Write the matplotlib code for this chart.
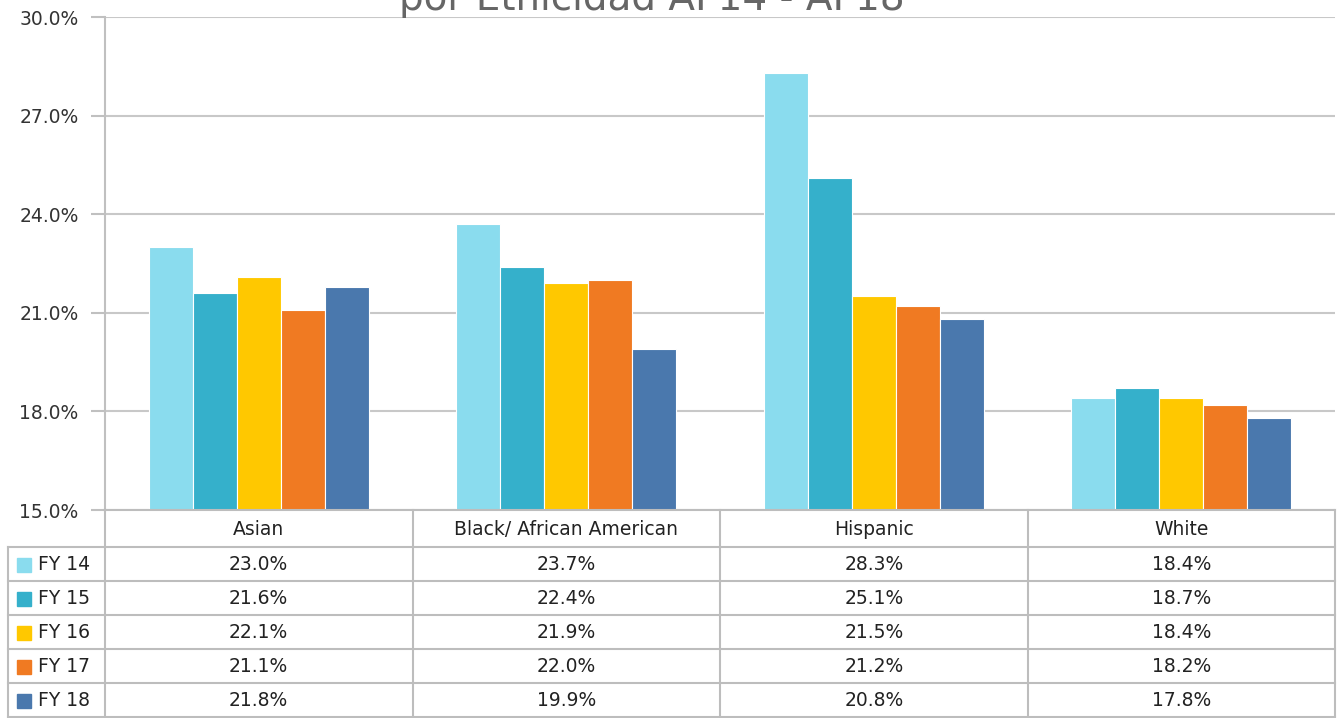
import numpy as np
import matplotlib.pyplot as plt
from matplotlib.ticker import FuncFormatter

# datos por grupo étnico, AF14 - AF18
grupos = ['Asian', 'Black/ African American', 'Hispanic', 'White']
series = ['FY 14', 'FY 15', 'FY 16', 'FY 17', 'FY 18']
fy14 = [23.0, 23.7, 28.3, 18.4]
fy15 = [21.6, 22.4, 25.1, 18.7]
fy16 = [22.1, 21.9, 21.5, 18.4]
fy17 = [21.1, 22.0, 21.2, 18.2]
fy18 = [21.8, 19.9, 20.8, 17.8]
valores = [fy14, fy15, fy16, fy17, fy18]
colores = ['#8adcee', '#35b0cb', '#ffc800', '#f07a22', '#4a78ad']
yticks = [15.0, 18.0, 21.0, 24.0, 27.0, 30.0]

W, H = 1337, 718
fig = plt.figure(figsize=(W / 100, H / 100), dpi=100)

# zona de barras (en píxeles: x 105..1335, y 17..510)
x0, x1, ytop, ybot = 105, 1335, 17, 510
ax = fig.add_axes([x0 / W, 1 - ybot / H, (x1 - x0) / W, (ybot - ytop) / H])

x = np.arange(len(grupos))
ancho = 0.143
for i, (vals, c) in enumerate(zip(valores, colores)):
    pos = x + (i - 2) * ancho
    ax.bar(pos, np.array(vals) - 15.0, bottom=15.0, width=ancho, color=c,
           edgecolor='white', linewidth=0.8, zorder=3)

ax.set_xlim(-0.5, len(grupos) - 0.5)
ax.set_ylim(15, 30)
ax.set_yticks(yticks)
ax.yaxis.set_major_formatter(FuncFormatter(lambda v, p: f'{v:.1f}%'))
ax.set_xticks([])
ax.grid(axis='y', color='#c8c8c8', linewidth=1.5, zorder=0)
for s in ['top', 'right', 'bottom']:
    ax.spines[s].set_visible(False)
ax.spines['left'].set_color('#c0c0c0')
ax.spines['left'].set_linewidth(1.5)
ax.tick_params(axis='y', length=10, width=1.5, color='#c0c0c0',
               labelsize=13.5, labelcolor='#333333', pad=9)

# título (la parte superior queda fuera del lienzo)
fig.text(652 / W, 1 - 10 / H, 'por Etnicidad AF14 - AF18', ha='center',
         va='baseline', fontsize=28, color='#666666')

# tabla de datos en coordenadas de píxel
tab = fig.add_axes([0, 0, 1, 1], facecolor='none')
tab.set_xlim(0, W)
tab.set_ylim(H, 0)
tab.axis('off')

lc = '#bdbdbd'
lw = 1.5
col_w = (x1 - x0) / len(grupos)
fila_top = [ybot, 547, 581, 615, 649, 683, 717]
leg_x = 8

# líneas horizontales
tab.plot([x0, x1], [fila_top[0], fila_top[0]], color=lc, lw=lw)
for yy in fila_top[1:]:
    tab.plot([leg_x, x1], [yy, yy], color=lc, lw=lw)
# líneas verticales
tab.plot([leg_x, leg_x], [fila_top[1], fila_top[-1]], color=lc, lw=lw)
for j in range(len(grupos) + 1):
    xx = x0 + j * col_w
    tab.plot([xx, xx], [fila_top[0], fila_top[-1]], color=lc, lw=lw)

# encabezados
for j, g in enumerate(grupos):
    cx = x0 + (j + 0.5) * col_w
    cy = (fila_top[0] + fila_top[1]) / 2
    tab.text(cx, cy + 1, g, ha='center', va='center', fontsize=13.5, color='#222222')

# filas con leyenda y valores
for i, (s, vals, c) in enumerate(zip(series, valores, colores)):
    cy = (fila_top[i + 1] + fila_top[i + 2]) / 2
    tab.add_patch(plt.Rectangle((17, cy - 6), 14, 14, color=c))
    tab.text(38, cy + 1, s, ha='left', va='center', fontsize=13.5, color='#222222')
    for j, v in enumerate(vals):
        cx = x0 + (j + 0.5) * col_w
        tab.text(cx, cy + 1, f'{v:.1f}%', ha='center', va='center',
                 fontsize=13.5, color='#222222')

fig.savefig('out.png', dpi=100)
